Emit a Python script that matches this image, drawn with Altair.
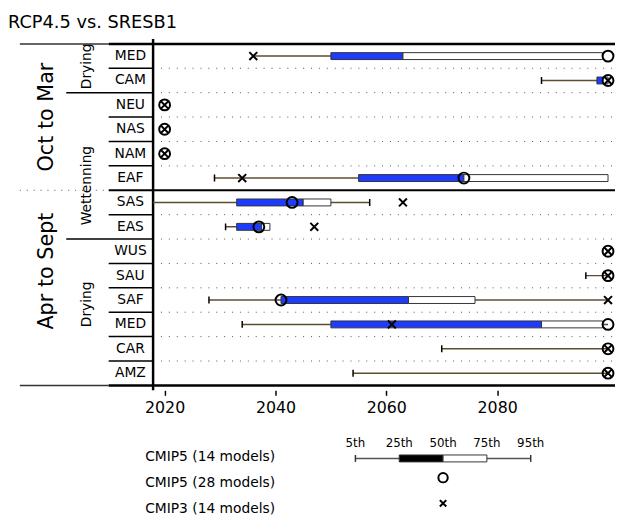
import altair as alt
import pandas as pd

# ---------------- data ----------------
title_text = "RCP4.5 vs. SRESB1"
regions = ["MED", "CAM", "NEU", "NAS", "NAM", "EAF", "SAS", "EAS",
           "WUS", "SAU", "SAF", "MED", "CAR", "AMZ"]
seasons = ["Oct to Mar"] * 6 + ["Apr to Sept"] * 8
directions = ["Drying"] * 2 + ["Wettenning"] * 6 + ["Drying"] * 6

# CMIP5 (14 models) percentiles of emergence year
p5 = [2036, 2088, 2020, 2020, 2020, 2029, 2015, 2031, 2100, 2096, 2028, 2034, 2070, 2054]
p25 = [2050, 2098, 2020, 2020, 2020, 2055, 2033, 2033, 2100, 2100, 2041, 2050, 2100, 2100]
p50 = [2063, 2099, 2020, 2020, 2020, 2074, 2045, 2037.5, 2100, 2100, 2064, 2088, 2100, 2100]
p75 = [2099, 2100, 2020, 2020, 2020, 2100, 2050, 2039, 2100, 2100, 2076, 2099, 2100, 2100]
p95 = [2099, 2100, 2020, 2020, 2020, 2100, 2057, 2039, 2100, 2100, 2100, 2100, 2100, 2100]
# CMIP5 (28 models) median, CMIP3 (14 models) median
cmip5_28 = [2100, 2100, 2020, 2020, 2020, 2074, 2043, 2037, 2100, 2100, 2041, 2100, 2100, 2100]
cmip3 = [2036, 2100, 2020, 2020, 2020, 2034, 2063, 2047, 2100, 2100, 2100, 2061, 2100, 2100]

x_ticks = [2020, 2040, 2060, 2080]
legend_labels = ["CMIP5 (14 models)", "CMIP5 (28 models)", "CMIP3 (14 models)"]
pct_labels = ["5th", "25th", "50th", "75th", "95th"]

# ---------------- build ----------------
n = len(regions)
df = pd.DataFrame(dict(i=list(range(n)), region=regions, p5=p5, p25=p25, p50=p50,
                       p75=p75, p95=p95, c28=cmip5_28, c3=cmip3))
df["yc"] = df["i"] + 0.5


def runs(labels):
    out = []
    start = 0
    for k in range(1, len(labels) + 1):
        if k == len(labels) or labels[k] != labels[start]:
            out.append((labels[start], start, k))
            start = k
    return out


season_runs = runs(seasons)
dir_runs = runs(directions)
season_b = [e for _, s, e in season_runs[:-1]]
dir_b = [e for _, s, e in dir_runs[:-1]]
inner = list(range(1, n))

W, H = 468, 356
FONT = "DejaVu Sans"
BLUE = "#1e3cff"
OLIVE = "#5e4e30"

xs = alt.Scale(domain=[2017.92, 2101.26], nice=False, zero=False)
ys = alt.Scale(domain=[0, n], reverse=True, nice=False, zero=False)
xaxis = alt.Axis(values=x_ticks, format="d", tickSize=5, tickWidth=1.5, tickColor="black",
                 domain=False, grid=False, labelFontSize=16, labelFont=FONT,
                 labelColor="black", labelPadding=4, title=None, labelFlush=False)


def X(f):
    return alt.X(f, type="quantitative", scale=xs, axis=xaxis, title=None)


def Y(f):
    return alt.Y(f, type="quantitative", scale=ys, axis=None)


def bdf(vals):
    return pd.DataFrame({"b": vals})


layers = []

# dotted row separators in plot
layers.append(alt.Chart(bdf([b for b in inner if b not in season_b])).mark_rule(
    color="#555", strokeWidth=1, strokeDash=[1, 7]).encode(
    y=Y("b"), x=alt.value(8), x2=alt.value(W)))

# short solid separators in region-label column
layers.append(alt.Chart(bdf([b for b in inner if b not in season_b and b not in dir_b])).mark_rule(
    color="black", strokeWidth=1.5).encode(y=Y("b"), x=alt.value(-45), x2=alt.value(0)))
# direction group separators
layers.append(alt.Chart(bdf(dir_b)).mark_rule(color="black", strokeWidth=1.5).encode(
    y=Y("b"), x=alt.value(-88), x2=alt.value(0)))
# season separator: dotted on left, thick solid across
layers.append(alt.Chart(bdf(season_b)).mark_rule(color="#555", strokeWidth=1, strokeDash=[1, 6]).encode(
    y=Y("b"), x=alt.value(-135), x2=alt.value(-45)))
layers.append(alt.Chart(bdf(season_b)).mark_rule(color="black", strokeWidth=2).encode(
    y=Y("b"), x=alt.value(-45), x2=alt.value(W)))
# top and bottom frame lines
layers.append(alt.Chart(bdf([0, n])).mark_rule(color="#333", strokeWidth=1.5).encode(
    y=Y("b"), x=alt.value(-135), x2=alt.value(-45)))
layers.append(alt.Chart(bdf([0, n])).mark_rule(color="black", strokeWidth=2.5).encode(
    y=Y("b"), x=alt.value(-45), x2=alt.value(W)))
# left plot border
layers.append(alt.Chart(bdf([0])).mark_rule(color="black", strokeWidth=2.5).encode(
    x=alt.value(0), y=alt.value(0), y2=alt.value(H)))

# whiskers
layers.append(alt.Chart(df).mark_rule(color=OLIVE, strokeWidth=1.5, clip=True).encode(
    x=X("p5"), x2=alt.X2("p95"), y=Y("yc")))
# whisker caps
cap = "M0,-1L0,1"
layers.append(alt.Chart(df).transform_filter(
    "datum.p5 < datum.p25 && datum.p5 != datum.c3 && datum.p5 != datum.c28").mark_point(
    shape=cap, size=49, strokeWidth=1.5, color="black", filled=False, clip=True, opacity=1).encode(
    x=X("p5"), y=Y("yc")))
layers.append(alt.Chart(df).transform_filter(
    "datum.p95 > datum.p75 && datum.p95 != datum.c3 && datum.p95 != datum.c28").mark_point(
    shape=cap, size=49, strokeWidth=1.5, color="black", filled=False, clip=True, opacity=1).encode(
    x=X("p95"), y=Y("yc")))
# boxes
layers.append(alt.Chart(df).transform_filter("datum.p75 > datum.p25").mark_bar(
    orient="horizontal", size=7, fill=BLUE, stroke="#333", strokeWidth=1).encode(
    x=X("p25"), x2=alt.X2("p50"), y=Y("yc")))
layers.append(alt.Chart(df).transform_filter("datum.p75 > datum.p25").mark_bar(
    orient="horizontal", size=7, fill="white", stroke="#333", strokeWidth=1).encode(
    x=X("p50"), x2=alt.X2("p75"), y=Y("yc")))
# CMIP5 28 circles
layers.append(alt.Chart(df).mark_point(shape="circle", size=121, filled=False, color="black",
                                       strokeWidth=2, opacity=1).encode(x=X("c28"), y=Y("yc")))
# CMIP3 crosses
xshape = "M-1,-1L1,1M-1,1L1,-1"
layers.append(alt.Chart(df).mark_point(shape=xshape, size=64, filled=False, color="black",
                                       strokeWidth=2, opacity=1).encode(x=X("c3"), y=Y("yc")))

# region labels
layers.append(alt.Chart(df).mark_text(font=FONT, fontSize=14, align="center", baseline="middle",
                                      color="black").encode(
    x=alt.value(-23), y=Y("yc"), text="region:N"))

# direction labels (rotated); dx runs along the (upward) text direction
dir_offsets = [2, -20, 8]
for (lab, s, e), off in zip(dir_runs, dir_offsets):
    layers.append(alt.Chart(pd.DataFrame({"t": [lab], "yc": [(s + e) / 2]})).mark_text(
        font=FONT, fontSize=14, angle=270, align="center", baseline="alphabetic",
        color="black", dx=off).encode(x=alt.value(-62.5), y=Y("yc"), text="t:N"))

# season labels (rotated)
season_offsets = [0, 17]
for (lab, s, e), off in zip(season_runs, season_offsets):
    layers.append(alt.Chart(pd.DataFrame({"t": [lab], "yc": [(s + e) / 2]})).mark_text(
        font=FONT, fontSize=21, angle=270, align="center", baseline="alphabetic",
        color="black", dx=off).encode(x=alt.value(-101.5), y=Y("yc"), text="t:N"))

# title
layers.append(alt.Chart(pd.DataFrame({"t": [title_text]})).mark_text(
    font=FONT, fontSize=18, align="left", baseline="alphabetic", color="black").encode(
    x=alt.value(-147), y=alt.value(-11), text="t:N"))

# ---------------- legend ----------------
LX0, LSTEP, LY = 205, 44.4, 425
leg = pd.DataFrame({"t": legend_labels, "k": list(range(len(legend_labels)))})
layers.append(alt.Chart(leg).transform_calculate(py=f"423.5 + datum.k * 26.5").mark_text(
    font=FONT, fontSize=14, align="left", baseline="middle", color="black").encode(
    x=alt.value(-8), y=alt.Y("py:Q", scale=None, axis=None), text="t:N"))
pl = pd.DataFrame({"t": pct_labels, "k": list(range(len(pct_labels)))})
layers.append(alt.Chart(pl).transform_calculate(px=f"{LX0} + datum.k * {LSTEP}").mark_text(
    font=FONT, fontSize=12, align="center", baseline="middle", color="black").encode(
    x=alt.X("px:Q", scale=None, axis=None), y=alt.value(409.5), text="t:N"))
one = pd.DataFrame({"a": [0]})
layers.append(alt.Chart(one).mark_rule(color="#555", strokeWidth=1.5).encode(
    x=alt.value(LX0), x2=alt.value(LX0 + 4 * LSTEP), y=alt.value(LY)))
for kk in (0, 4):
    layers.append(alt.Chart(one).mark_rule(color="#333", strokeWidth=1.5).encode(
        x=alt.value(LX0 + kk * LSTEP), y=alt.value(LY - 3.5), y2=alt.value(LY + 3.5)))
layers.append(alt.Chart(one).mark_rect(fill="black", stroke="#333", strokeWidth=1).encode(
    x=alt.value(LX0 + LSTEP), x2=alt.value(LX0 + 2 * LSTEP),
    y=alt.value(LY - 3.5), y2=alt.value(LY + 3.5)))
layers.append(alt.Chart(one).mark_rect(fill="white", stroke="#333", strokeWidth=1).encode(
    x=alt.value(LX0 + 2 * LSTEP), x2=alt.value(LX0 + 3 * LSTEP),
    y=alt.value(LY - 3.5), y2=alt.value(LY + 3.5)))
layers.append(alt.Chart(one).mark_point(shape="circle", size=90, filled=False, color="black",
                                        strokeWidth=2, opacity=1).encode(
    x=alt.value(LX0 + 2 * LSTEP), y=alt.value(444.5)))
layers.append(alt.Chart(one).mark_point(shape=xshape, size=42, filled=False, color="black",
                                        strokeWidth=2, opacity=1).encode(
    x=alt.value(LX0 + 2 * LSTEP), y=alt.value(470.5)))

chart = alt.layer(*layers).properties(
    width=W, height=H,
    padding={"left": 147, "top": 28, "right": 0, "bottom": 128},
    autosize=alt.AutoSizeParams(type="none"),
    background="white",
).configure_view(stroke=None)

chart.save("out.html", embed_options={"renderer": "svg", "actions": False})
